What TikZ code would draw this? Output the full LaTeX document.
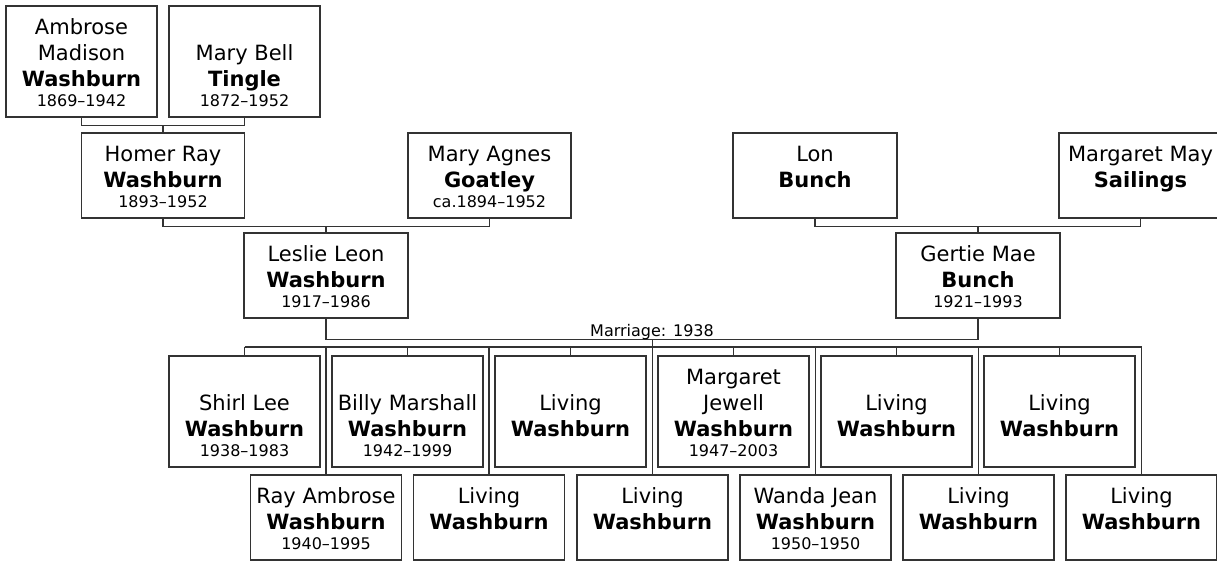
\documentclass[tikz,border=0pt]{standalone}
\usepackage{fontspec}
\setmainfont{DejaVu Sans}
\usetikzlibrary{calc}
\definecolor{lc}{HTML}{333333}
\tikzset{
  pbox/.style={draw=lc, line width=1.5pt, inner sep=0pt, fill=white},
  conn/.style={draw=lc, line width=1.2pt},
  nametxt/.style={anchor=base, inner sep=0pt, font=\fontsize{21}{25}\selectfont},
  surtxt/.style={anchor=base, inner sep=0pt, font=\fontsize{21}{25}\selectfont\bfseries},
  datetxt/.style={anchor=base, inner sep=0pt, font=\fontsize{16}{19}\selectfont},
}
% tall box (111 high): id, cx, top, width, line1, line2, surname, dates
\newcommand\personA[8]{%
  \node[pbox, minimum width=#4pt, minimum height=111pt] (#1) at (#2,#3+55.5) {};
  \if\relax\detokenize{#5}\relax\else\node[nametxt] (#1-a) at ($(#1.north)+(0,29)$) {#5};\fi
  \if\relax\detokenize{#6}\relax\else\node[nametxt] (#1-b) at ($(#1.north)+(0,55)$) {#6};\fi
  \node[surtxt] (#1-s) at ($(#1.north)+(0,81)$) {#7};
  \if\relax\detokenize{#8}\relax\else\node[datetxt] (#1-d) at ($(#1.north)+(0,101)$) {#8};\fi
}
% short box (85 high): id, cx, top, width, name, surname, dates
\newcommand\personB[7]{%
  \node[pbox, minimum width=#4pt, minimum height=85pt] (#1) at (#2,#3+42.5) {};
  \node[nametxt] (#1-a) at ($(#1.north)+(0,29)$) {#5};
  \node[surtxt] (#1-s) at ($(#1.north)+(0,55)$) {#6};
  \if\relax\detokenize{#7}\relax\else\node[datetxt] (#1-d) at ($(#1.north)+(0,75)$) {#7};\fi
}
\begin{document}
\begin{tikzpicture}[x=1pt,y=-1pt]
\useasboundingbox (0,0) rectangle (1217,561);
\clip (0,0) rectangle (1217,561);
% generation 0
\personA{amb}{81.5}{6}{151}{Ambrose}{Madison}{Washburn}{1869–1942}
\personA{mbt}{244.5}{6}{151}{}{Mary Bell}{Tingle}{1872–1952}
% generation 1
\personB{hom}{163}{133}{163}{Homer Ray}{Washburn}{1893–1952}
\personB{mag}{489.5}{133}{163}{Mary Agnes}{Goatley}{ca.1894–1952}
\personB{lon}{815}{133}{164}{Lon}{Bunch}{}
\personB{mms}{1140.5}{133}{163}{Margaret May}{Sailings}{}
% generation 2
\personB{les}{326}{233}{164}{Leslie Leon}{Washburn}{1917–1986}
\personB{ger}{978}{233}{164}{Gertie Mae}{Bunch}{1921–1993}
% children, top row
\personA{c1}{244.5}{356}{151}{}{Shirl Lee}{Washburn}{1938–1983}
\personA{c3}{407.5}{356}{151}{}{Billy Marshall}{Washburn}{1942–1999}
\personA{c5}{570.5}{356}{151}{}{Living}{Washburn}{}
\personA{c7}{733.5}{356}{151}{Margaret}{Jewell}{Washburn}{1947–2003}
\personA{c9}{896.5}{356}{151}{}{Living}{Washburn}{}
\personA{c11}{1059.5}{356}{151}{}{Living}{Washburn}{}
% children, bottom row
\personB{c2}{326}{475}{151}{Ray Ambrose}{Washburn}{1940–1995}
\personB{c4}{489}{475}{151}{Living}{Washburn}{}
\personB{c6}{652.5}{475}{151}{Living}{Washburn}{}
\personB{c8}{815.5}{475}{151}{Wanda Jean}{Washburn}{1950–1950}
\personB{c10}{978.5}{475}{151}{Living}{Washburn}{}
\personB{c12}{1141.5}{475}{151}{Living}{Washburn}{}
% parent connectors
\draw[conn] (amb.south) -- ++(0,8) coordinate (j1) -| (mbt.south);
\draw[conn] (hom.north) -- (hom.north |- j1);
\draw[conn] (hom.south) -- ++(0,8) coordinate (j2) -| (mag.south);
\draw[conn] (les.north) -- (les.north |- j2);
\draw[conn] (lon.south) -- ++(0,8) coordinate (j3) -| (mms.south);
\draw[conn] (ger.north) -- (ger.north |- j3);
% marriage
\draw[conn] (les.south) -- ++(0,21) coordinate (j4) -| (ger.south);
\coordinate (mar) at (652.5,340);
\node[datetxt] (marlbl) at (652,336) {Marriage: 1938};
\coordinate (bar) at (652.5,347);
\draw[conn] (mar) -- (bar);
\draw[conn] (c1.north |- bar) -- (c12.north |- bar);
\foreach \c in {c1,c2,c3,c4,c5,c6,c7,c8,c9,c10,c11,c12}{
  \draw[conn] (\c.north) -- (\c.north |- bar);
}
\end{tikzpicture}
\end{document}
